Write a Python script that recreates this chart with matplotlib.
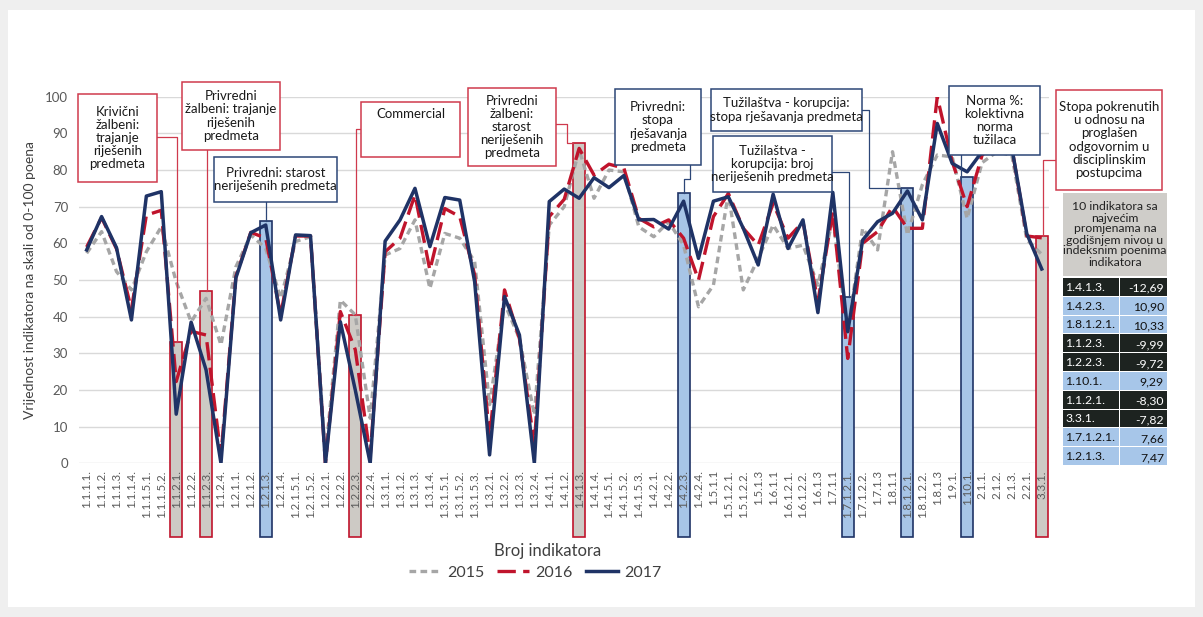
import matplotlib
matplotlib.use('Agg')
import matplotlib.pyplot as plt
from matplotlib.patches import Rectangle
from matplotlib.lines import Line2D

plt.rcParams['font.family'] = ['Lato', 'DejaVu Sans']

# ---------------- data ----------------
labels = ['1.1.1.1.', '1.1.1.2.', '1.1.1.3.', '1.1.1.4.', '1.1.1.5.1.', '1.1.1.5.2.',
          '1.1.2.1.', '1.1.2.2.', '1.1.2.3.', '1.1.2.4.', '1.2.1.1.', '1.2.1.2.',
          '1.2.1.3.', '1.2.1.4.', '1.2.1.5.1.', '1.2.1.5.2.', '1.2.2.1.', '1.2.2.2.',
          '1.2.2.3.', '1.2.2.4.', '1.3.1.1.', '1.3.1.2.', '1.3.1.3.', '1.3.1.4.',
          '1.3.1.5.1.', '1.3.1.5.2.', '1.3.1.5.3.', '1.3.2.1.', '1.3.2.2.', '1.3.2.3.',
          '1.3.2.4.', '1.4.1.1.', '1.4.1.2.', '1.4.1.3.', '1.4.1.4.', '1.4.1.5.1.',
          '1.4.1.5.2.', '1.4.1.5.3.', '1.4.2.1.', '1.4.2.2.', '1.4.2.3.', '1.4.2.4.',
          '1.5.1.1', '1.5.1.2.1.', '1.5.1.2.2.', '1.5.1.3', '1.6.1.1', '1.6.1.2.1.',
          '1.6.1.2.2.', '1.6.1.3', '1.7.1.1', '1.7.1.2.1.', '1.7.1.2.2.', '1.7.1.3',
          '1.8.1.1', '1.8.1.2.1.', '1.8.1.2.2.', '1.8.1.3', '1.9.1.', '1.10.1.',
          '2.1.1.', '2.1.2.', '2.1.3.', '2.2.1.', '3.3.1.']

v2015 = [57.3, 63.2, 52.3, 47.3, 57.7, 64.5, 49.5, 38.6, 45.0, 32.3,
         53.6, 62.3, 58.6, 45.0, 60.5, 61.8, 2.0, 44.5, 40.5, 12.3,
         56.8, 58.6, 66.4, 47.7, 62.7, 61.4, 55.0, 16.0, 43.6, 34.0,
         13.2, 65.0, 70.0, 85.5, 72.3, 80.0, 79.5, 64.5, 61.8, 65.9,
         59.5, 42.7, 48.6, 73.6, 47.3, 55.9, 65.0, 58.6, 59.5, 48.6,
         66.8, 35.9, 64.1, 58.2, 85.0, 62.3, 76.0, 84.1, 83.6, 66.8,
         82.0, 85.0, 84.0, 61.0, 57.0]

v2016 = [59.0, 67.0, 58.5, 42.0, 67.7, 69.0, 22.3, 36.0, 35.0, 2.0,
         51.0, 63.0, 61.4, 40.5, 62.0, 62.0, 0.0, 41.4, 31.0, 2.0,
         57.7, 61.4, 73.2, 52.7, 69.5, 67.3, 51.4, 7.0, 47.3, 34.0,
         5.0, 67.3, 72.0, 85.9, 78.6, 81.6, 80.5, 66.8, 64.5, 66.4,
         61.4, 50.0, 67.3, 73.6, 64.1, 59.5, 70.9, 61.4, 65.9, 44.1,
         68.6, 28.6, 60.0, 63.2, 70.0, 64.1, 64.1, 100.0, 82.3, 70.0,
         84.0, 88.0, 86.0, 62.0, 61.5]

v2017 = [58.2, 67.3, 58.8, 39.1, 72.9, 74.1, 13.4, 38.5, 25.5, 0.0,
         50.6, 62.9, 65.0, 39.1, 62.3, 62.1, 0.0, 38.6, 20.0, 0.0,
         60.6, 66.4, 75.0, 59.1, 72.5, 71.8, 49.5, 2.3, 45.5, 35.0,
         0.0, 71.4, 74.8, 72.3, 77.9, 75.2, 78.5, 66.4, 66.5, 63.9,
         71.5, 55.9, 71.5, 72.7, 64.1, 54.1, 73.4, 58.6, 66.4, 41.1,
         73.9, 35.9, 60.9, 65.9, 68.2, 74.3, 66.4, 92.7, 81.8, 79.5,
         85.0, 89.0, 86.0, 62.6, 53.0]

# highlighted indicators (bars)
bar_labels = ['1.1.2.1.', '1.1.2.3.', '1.2.1.3.', '1.2.2.3.', '1.4.1.3.',
              '1.4.2.3.', '1.7.1.2.1.', '1.8.1.2.1.', '1.10.1.', '3.3.1.']
bar_values = [33.0, 47.0, 66.0, 40.5, 87.5, 73.8, 45.3, 75.2, 78.2, 62.0]
bar_decline = [True, True, False, True, True, False, False, False, False, True]

box_texts = ['Krivični\nžalbeni:\ntrajanje\nriješenih\npredmeta',
             'Privredni\nžalbeni: trajanje\nriješenih\npredmeta',
             'Privredni: starost\nneriješenih predmeta',
             'Commercial',
             'Privredni\nžalbeni:\nstarost\nneriješenih\npredmeta',
             'Privredni:\nstopa\nrješavanja\npredmeta',
             'Tužilaštva - korupcija:\nstopa rješavanja predmeta',
             'Tužilaštva -\nkorupcija: broj\nneriješenih predmeta',
             'Norma %:\nkolektivna\nnorma\ntužilaca',
             'Stopa pokrenutih\nu odnosu na\nproglašen\nodgovornim u\ndisciplinskim\npostupcima']
box_targets = ['1.1.2.1.', '1.1.2.3.', '1.2.1.3.', '1.2.2.3.', '1.4.1.3.',
               '1.4.2.3.', '1.8.1.2.1.', '1.7.1.2.1.', '1.10.1.', '3.3.1.']

table_title = '10 indikatora sa\nnajvećim\npromjenama na\ngodišnjem nivou u\nindeksnim poenima\nindikatora'
table_ind = ['1.4.1.3.', '1.4.2.3.', '1.8.1.2.1.', '1.1.2.3.', '1.2.2.3.',
             '1.10.1.', '1.1.2.1.', '3.3.1.', '1.7.1.2.1.', '1.2.1.3.']
table_val = [-12.69, 10.90, 10.33, -9.99, -9.72, 9.29, -8.30, -7.82, 7.66, 7.47]

series_names = ['2015', '2016', '2017']

# ---------------- style ----------------
W, H = 1203, 617
RED = '#c0142c'
NAVY = '#1f3366'
GRAY = '#a6a6a6'
BOXRED = '#cf3a4d'
BOXNAVY = '#2c4677'

fig = plt.figure(figsize=(W / 100, H / 100), dpi=100, facecolor='#efefef')
fig.add_artist(Rectangle((8 / W, 1 - 607 / H), (1195 - 8) / W, (607 - 10) / H,
                         transform=fig.transFigure, facecolor='white',
                         edgecolor='none', zorder=-10))

ax_l, ax_r, ax_t, ax_b = 79.2, 1049.2, 96.7, 463.3
ax = fig.add_axes([ax_l / W, 1 - ax_b / H, (ax_r - ax_l) / W, (ax_b - ax_t) / H])
ax.set_facecolor('none')

x = list(range(len(labels)))
ax.set_xlim(-0.5, len(labels) - 0.5)
ax.set_ylim(0, 100)

for gy in range(0, 101, 10):
    ax.axhline(gy, color='#d9d9d9', lw=1.0, zorder=0.5)

# bars
pos = [labels.index(l) for l in bar_labels]
for p, v, dec in zip(pos, bar_values, bar_decline):
    fc = '#cdcac5' if dec else '#a7c5e7'
    ec = RED if dec else NAVY
    ax.bar(p, v + 20, bottom=-20, width=0.8, color=fc, edgecolor=ec,
           linewidth=1.2, clip_on=False, zorder=1)

ax.plot(x, v2015, color=GRAY, lw=2.4, ls=(0, (2.0, 1.3)), zorder=2, label=series_names[0])
ax.plot(x, v2016, color=RED, lw=2.4, ls=(0, (5.5, 2.2)), zorder=3, label=series_names[1])
ax.plot(x, v2017, color=NAVY, lw=2.5, zorder=4, label=series_names[2])

ax.set_xticks(x)
ax.set_xticklabels(labels, rotation=90, fontsize=8.3, color='#595959')
ax.set_yticks(range(0, 101, 10))
ax.tick_params(axis='y', labelsize=9.5, colors='#595959', length=0, pad=8)
ax.tick_params(axis='x', length=0, pad=5)
for s in ax.spines.values():
    s.set_visible(False)

fig.text(30 / W, 1 - 280 / H, 'Vrijednost indikatora na skali od 0-100 poena',
         rotation=90, ha='center', va='center', fontsize=10, color='#404040')
fig.text(548 / W, 1 - 551 / H, 'Broj indikatora', ha='center', va='center',
         fontsize=12, color='#404040')

handles = [Line2D([], [], color=GRAY, lw=2.4, ls=(0, (2.0, 1.3))),
           Line2D([], [], color=RED, lw=2.4, ls=(0, (5.5, 2.2))),
           Line2D([], [], color=NAVY, lw=2.5)]
leg = fig.legend(handles, series_names, loc='center', bbox_to_anchor=(535 / W, 1 - 573 / H),
                 ncol=3, frameon=False, fontsize=11.5, handlelength=2.0,
                 columnspacing=0.8, handletextpad=0.4)
for t in leg.get_texts():
    t.set_color('#404040')

# ---------------- annotation boxes ----------------
def F(px, py):
    return (px / W, 1 - py / H)

fig.canvas.draw()
to_fig = ax.transData + fig.transFigure.inverted()

# (left, top, right, bottom) pixel, colour, text-vertical mode, connector pixel path, endpoint x offset
box_layout = [
    ((78, 94, 157, 182), BOXRED, 'c', [(157, 137), (177, 137)], 0.0),
    ((182, 82, 280, 150), BOXRED, 'c', [(207, 150)], 0.0),
    ((214, 157, 337, 202), BOXNAVY, 'c', [(266, 202)], 0.0),
    ((361, 102, 460, 157), BOXRED, 't', [(361, 129), (356, 129)], 0.0),
    ((468, 88, 556, 166), BOXRED, 'c', [(556, 124), (567, 124)], -0.4),
    ((615, 89, 701, 165), BOXNAVY, 'c', [(690, 165), (690, 179), (683.5, 179)], 0.0),
    ((711, 89, 862, 131), BOXNAVY, 'c', [(862, 110), (869, 110)], -0.4),
    ((713, 136, 832, 192), BOXNAVY, 'c', [(832, 172), (849, 172)], 0.1),
    ((949, 86, 1040, 155), BOXNAVY, 'c', [(961, 155)], -0.4),
    ((1056, 90, 1162, 190), BOXRED, 'c', [(1056, 160), (1043, 160)], 0.1),
]

bar_lookup = dict(zip(bar_labels, bar_values))

for txt, tgt, (rect, col, mode, path, dx) in zip(box_texts, box_targets, box_layout):
    l, t, r, b = rect
    fig.add_artist(Rectangle(F(l, b), (r - l) / W, (b - t) / H, transform=fig.transFigure,
                             facecolor='white', edgecolor=col, lw=1.1, zorder=5))
    if mode == 'c':
        fig.text((l + r) / 2 / W, 1 - (t + b) / 2 / H, txt, ha='center', va='center',
                 fontsize=9.5, color='#1a1a1a', linespacing=1.12, zorder=6)
    else:
        fig.text((l + r) / 2 / W, 1 - (t + 12) / H, txt, ha='center', va='center',
                 fontsize=9.5, color='#1a1a1a', zorder=6)
    end = to_fig.transform((labels.index(tgt) + dx, bar_lookup[tgt]))
    pts = [F(*p) for p in path]
    xs = [p[0] for p in pts]
    ys = [p[1] for p in pts]
    xs.append(xs[-1]); ys.append(end[1])
    xs.append(end[0]); ys.append(end[1])
    fig.add_artist(Line2D(xs, ys, transform=fig.transFigure, color=col, lw=0.9, zorder=4))

# ---------------- table ----------------
tl, tr, tt, tb = 1063, 1167, 193, 276
fig.add_artist(Rectangle(F(tl, tb), (tr - tl) / W, (tb - tt) / H, transform=fig.transFigure,
                         facecolor='#cfcdc9', edgecolor='none', zorder=5))
fig.text((tl + tr) / 2 / W, 1 - (tt + tb) / 2 / H, table_title, ha='center', va='center',
         fontsize=8.8, color='#222222', linespacing=1.0, zorder=6)
row_h = (466 - 278) / len(table_ind)
div = 1120
for i, (ind, val) in enumerate(zip(table_ind, table_val)):
    y0 = 278 + i * row_h
    dark = val < 0
    bg = '#1d2320' if dark else '#a7c6e9'
    fc = 'white' if dark else '#111111'
    fig.add_artist(Rectangle(F(tl, y0 + row_h - 1), (div - tl - 1) / W, (row_h - 1) / H,
                             transform=fig.transFigure, facecolor=bg, edgecolor='none', zorder=5))
    fig.add_artist(Rectangle(F(div, y0 + row_h - 1), (tr - div) / W, (row_h - 1) / H,
                             transform=fig.transFigure, facecolor=bg, edgecolor='none', zorder=5))
    fig.text((tl + 2) / W, 1 - (y0 + row_h / 2) / H, ind, ha='left', va='center',
             fontsize=8.8, color=fc, zorder=6)
    fig.text((tr - 3) / W, 1 - (y0 + row_h / 2 + 1) / H, f'{val:.2f}'.replace('.', ','),
             ha='right', va='center', fontsize=8.8, color=fc, zorder=6)

fig.savefig('out.png', dpi=100, facecolor=fig.get_facecolor())
